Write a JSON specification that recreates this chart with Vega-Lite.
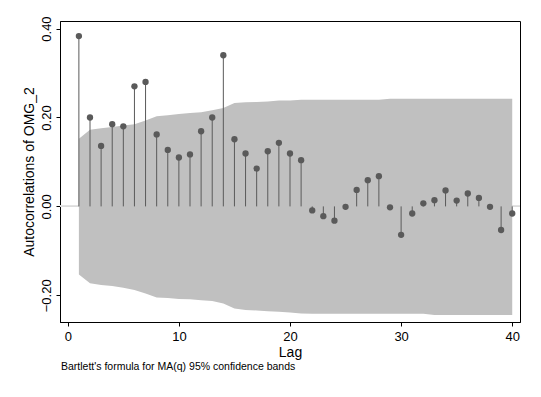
{
  "$schema": "https://vega.github.io/schema/vega-lite/v6.json",
  "autosize": {"type": "none"},
  "width": 460,
  "height": 301,
  "padding": {"left": 60, "top": 21, "right": 21, "bottom": 75},
  "background": "white",
  "config": {
    "font": "Liberation Sans",
    "view": {"stroke": "black", "strokeWidth": 1}
  },
  "title": {
    "text": "Bartlett's formula for MA(q) 95% confidence bands",
    "orient": "bottom",
    "anchor": "start",
    "frame": "group",
    "fontSize": 10.5,
    "fontWeight": "normal",
    "color": "black",
    "offset": 3,
    "dx": 1,
    "font": "Liberation Sans"
  },
  "data": {
    "values": [
      {"lag": 1, "ac": 0.383, "lo": -0.153, "hi": 0.152},
      {"lag": 2, "ac": 0.200, "lo": -0.173, "hi": 0.1725},
      {"lag": 3, "ac": 0.136, "lo": -0.177, "hi": 0.176},
      {"lag": 4, "ac": 0.185, "lo": -0.179, "hi": 0.1786},
      {"lag": 5, "ac": 0.180, "lo": -0.183, "hi": 0.182},
      {"lag": 6, "ac": 0.270, "lo": -0.188, "hi": 0.185},
      {"lag": 7, "ac": 0.280, "lo": -0.196, "hi": 0.193},
      {"lag": 8, "ac": 0.162, "lo": -0.205, "hi": 0.2025},
      {"lag": 9, "ac": 0.127, "lo": -0.206, "hi": 0.2048},
      {"lag": 10, "ac": 0.110, "lo": -0.208, "hi": 0.208},
      {"lag": 11, "ac": 0.117, "lo": -0.209, "hi": 0.210},
      {"lag": 12, "ac": 0.169, "lo": -0.211, "hi": 0.212},
      {"lag": 13, "ac": 0.200, "lo": -0.213, "hi": 0.216},
      {"lag": 14, "ac": 0.340, "lo": -0.2185, "hi": 0.2214},
      {"lag": 15, "ac": 0.151, "lo": -0.2295, "hi": 0.2327},
      {"lag": 16, "ac": 0.119, "lo": -0.233, "hi": 0.234},
      {"lag": 17, "ac": 0.085, "lo": -0.234, "hi": 0.235},
      {"lag": 18, "ac": 0.124, "lo": -0.2356, "hi": 0.236},
      {"lag": 19, "ac": 0.143, "lo": -0.237, "hi": 0.238},
      {"lag": 20, "ac": 0.119, "lo": -0.2386, "hi": 0.238},
      {"lag": 21, "ac": 0.104, "lo": -0.241, "hi": 0.240},
      {"lag": 22, "ac": -0.009, "lo": -0.2417, "hi": 0.240},
      {"lag": 23, "ac": -0.022, "lo": -0.2417, "hi": 0.240},
      {"lag": 24, "ac": -0.032, "lo": -0.2417, "hi": 0.240},
      {"lag": 25, "ac": -0.001, "lo": -0.2417, "hi": 0.240},
      {"lag": 26, "ac": 0.037, "lo": -0.2417, "hi": 0.240},
      {"lag": 27, "ac": 0.059, "lo": -0.2417, "hi": 0.240},
      {"lag": 28, "ac": 0.068, "lo": -0.2417, "hi": 0.240},
      {"lag": 29, "ac": -0.002, "lo": -0.2417, "hi": 0.2424},
      {"lag": 30, "ac": -0.064, "lo": -0.2417, "hi": 0.2424},
      {"lag": 31, "ac": -0.016, "lo": -0.2417, "hi": 0.2424},
      {"lag": 32, "ac": 0.007, "lo": -0.2417, "hi": 0.2424},
      {"lag": 33, "ac": 0.014, "lo": -0.244, "hi": 0.2424},
      {"lag": 34, "ac": 0.036, "lo": -0.244, "hi": 0.2424},
      {"lag": 35, "ac": 0.013, "lo": -0.244, "hi": 0.2424},
      {"lag": 36, "ac": 0.029, "lo": -0.244, "hi": 0.2424},
      {"lag": 37, "ac": 0.019, "lo": -0.244, "hi": 0.2424},
      {"lag": 38, "ac": -0.001, "lo": -0.244, "hi": 0.2424},
      {"lag": 39, "ac": -0.053, "lo": -0.244, "hi": 0.2424},
      {"lag": 40, "ac": -0.016, "lo": -0.244, "hi": 0.2424}
    ]
  },
  "encoding": {
    "x": {
      "field": "lag",
      "type": "quantitative",
      "scale": {"domain": [-0.7, 40.7], "nice": false, "zero": false},
      "axis": {
        "title": "Lag",
        "values": [0, 10, 20, 30, 40],
        "grid": false,
        "domainColor": "black",
        "tickColor": "black",
        "tickSize": 4,
        "labelPadding": 4,
        "labelFontSize": 13,
        "labelColor": "black",
        "titleFontSize": 14,
        "titleFontWeight": "normal",
        "titleColor": "black",
        "titlePadding": 2,
        "labelFlush": false
      }
    }
  },
  "layer": [
    {
      "mark": {"type": "rule", "color": "#dcdcdc", "strokeWidth": 1},
      "encoding": {"y": {"datum": 0, "type": "quantitative"}, "x": null}
    },
    {
      "mark": {"type": "area", "color": "#c0c0c0", "opacity": 1},
      "encoding": {
        "y": {
          "field": "lo",
          "type": "quantitative",
          "scale": {"domain": [-0.26, 0.417], "nice": false, "zero": false},
          "axis": {
            "title": "Autocorrelations of OMG_2",
            "values": [-0.2, 0, 0.2, 0.4],
            "format": ".2f",
            "grid": false,
            "domainColor": "black",
            "tickColor": "black",
            "tickSize": 4,
            "labelAngle": -90,
            "labelAlign": "center",
            "labelBaseline": "bottom",
            "labelPadding": 3,
            "labelFontSize": 13,
            "labelColor": "black",
            "titleFontSize": 14,
            "titleFontWeight": "normal",
            "titleColor": "black",
            "titlePadding": 4
          }
        },
        "y2": {"field": "hi"}
      }
    },
    {
      "mark": {"type": "rule", "color": "#5a5a5a", "strokeWidth": 1},
      "encoding": {
        "y": {"field": "ac", "type": "quantitative"},
        "y2": {"datum": 0}
      }
    },
    {
      "mark": {"type": "point", "filled": true, "shape": "circle", "size": 40, "color": "#5a5a5a", "opacity": 1},
      "encoding": {
        "y": {"field": "ac", "type": "quantitative"}
      }
    }
  ]
}
